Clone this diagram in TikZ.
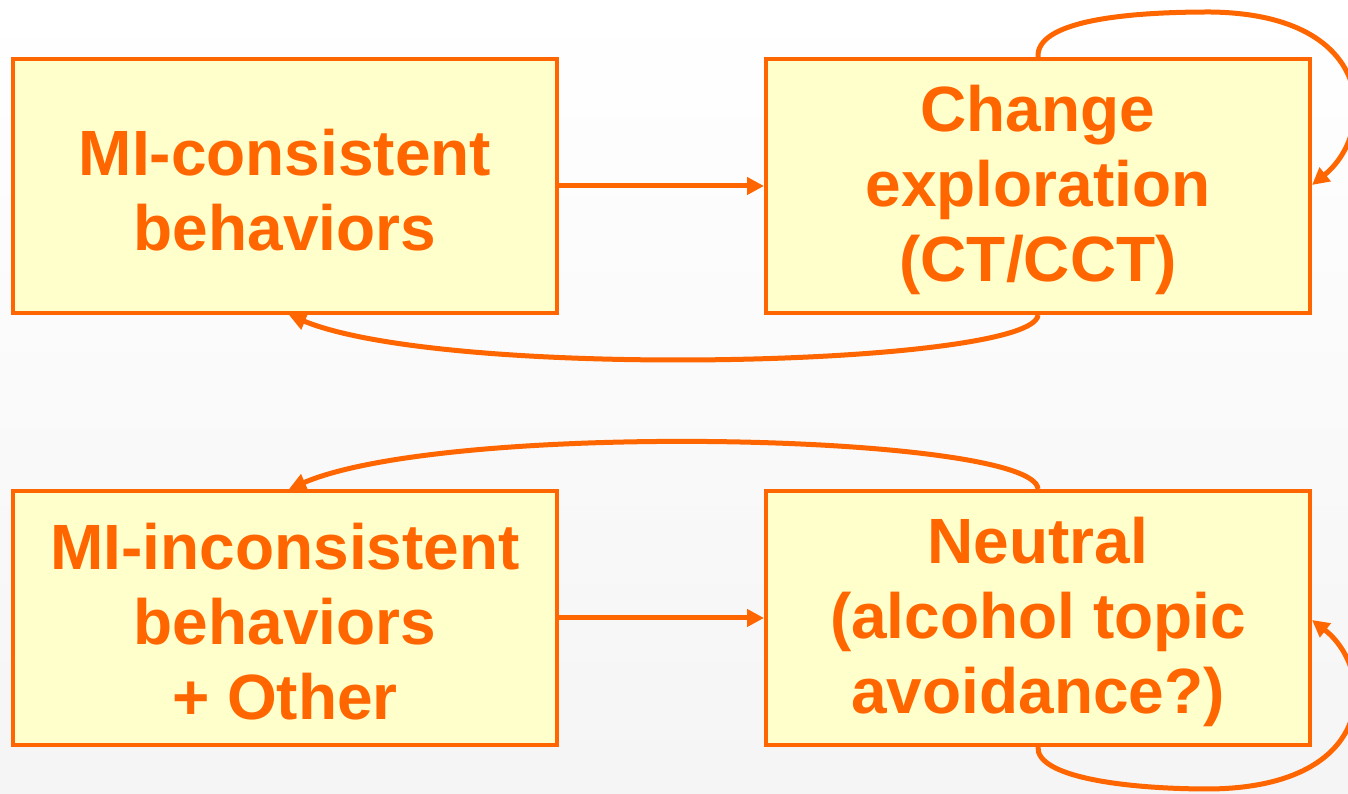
\documentclass[tikz,border=0pt]{standalone}
\usepackage{fontspec}
\setmainfont{Liberation Sans}
\usetikzlibrary{arrows.meta}
\definecolor{linkorange}{HTML}{FF6600}
\definecolor{boxfill}{HTML}{FFFFCC}
\begin{document}
\begin{tikzpicture}[x=1pt,y=1pt,
  statebox/.style={draw=linkorange, line width=4pt, fill=boxfill,
    minimum width=544pt, minimum height=254pt, inner sep=0pt},
  statetext/.style={text=linkorange, align=center,
    font=\fontsize{64}{75}\selectfont\bfseries},
  link/.style={draw=linkorange, line width=5pt,
    -{Triangle[length=17pt,width=17pt]}}]
  % background
  \shade[top color=white, bottom color=black!4] (0,0) rectangle (1348,794);
  \useasboundingbox (0,0) rectangle (1348,794);
  % states
  \node[statebox] (cons)  at (285,608) {};
  \node[statebox] (chg)   at (1038,608) {};
  \node[statebox] (incons) at (285,176) {};
  \node[statebox] (neut)  at (1038,176) {};
  \node[statetext] (consT)   at ([yshift=-4pt]cons.center)   {MI-consistent\\behaviors};
  \node[statetext] (chgT)    at ([yshift=-4pt]chg.center)    {Change\\exploration\\(CT/CCT)};
  \node[statetext] (inconsT) at ([yshift=-4pt]incons.center) {MI-inconsistent\\behaviors\\+ Other};
  \node[statetext] (neutT)   at ([yshift=-4pt]neut.center)   {Neutral\\(alcohol topic\\avoidance?)};
  % transitions
  \draw[link] (cons.east) -- (chg.west);
  \draw[link] (incons.east) -- (neut.west);
  \draw[link] (chg.south) .. controls (1034,428) and (450,413) .. ([xshift=4pt]cons.south);
  \draw[link] (neut.north) .. controls (1034,360) and (450,374) .. ([xshift=4pt]incons.north);
  % self loops
  \draw[link] (chg.north) .. controls (1036,772) and (1120,782) .. (1210,782)
    .. controls (1380,780) and (1375,660) .. ([yshift=1pt]chg.east);
  \draw[link] (neut.south) .. controls (1036,18) and (1120,5) .. (1210,5)
    .. controls (1380,7) and (1375,125) .. ([yshift=-2pt]neut.east);
\end{tikzpicture}
\end{document}
